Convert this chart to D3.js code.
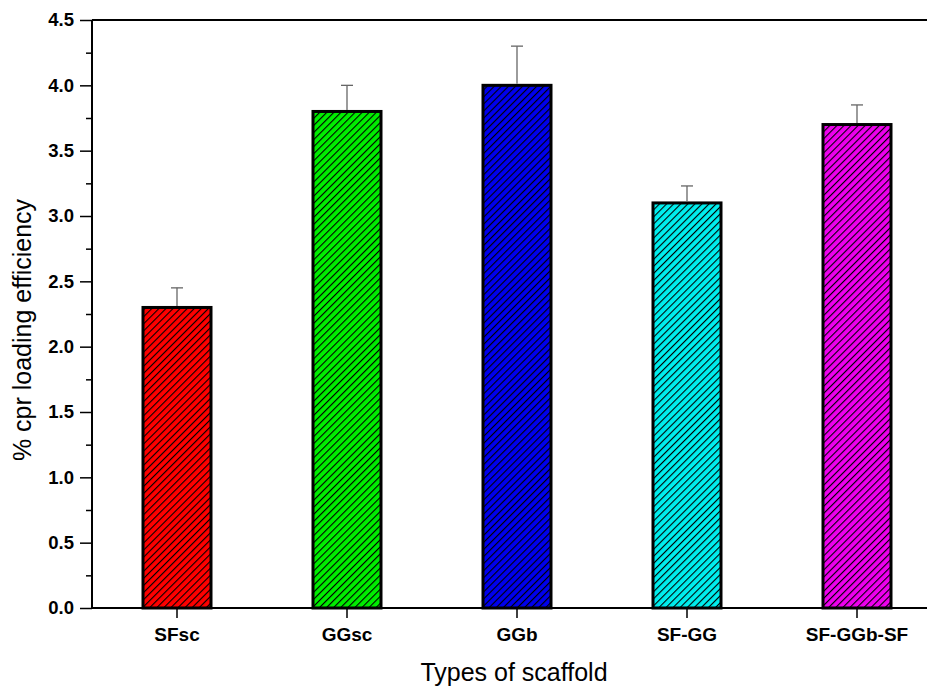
<!DOCTYPE html>
<html><head><meta charset="utf-8">
<script src="https://cdn.jsdelivr.net/npm/d3@7"></script>
<style>body{margin:0;background:#fff}svg{display:block}</style>
</head><body>
<script>
const categories = ["SFsc", "GGsc", "GGb", "SF-GG", "SF-GGb-SF"];
const values = [2.3, 3.8, 4.0, 3.1, 3.7];
const errors = [0.15, 0.2, 0.3, 0.13, 0.15];
const colors = ["#ff0000", "#00ee00", "#0000ee", "#00eeee", "#ee00ee"];
const yTicks = [0.0, 0.5, 1.0, 1.5, 2.0, 2.5, 3.0, 3.5, 4.0, 4.5];

const W = 927, H = 687;
const m = {left: 92, right: 0, top: 20, bottom: 79};
const FONT = "Liberation Sans, Arial, sans-serif";
const svg = d3.select("body").append("svg").attr("width", W).attr("height", H);
const defs = svg.append("defs");
colors.forEach((c, i) => {
  const p = defs.append("pattern").attr("id", "h" + i).attr("patternUnits", "userSpaceOnUse")
    .attr("width", 5).attr("height", 5).attr("patternTransform", "rotate(45)");
  p.append("rect").attr("width", 5).attr("height", 5).attr("fill", c);
  p.append("line").attr("x1", 0).attr("y1", 0).attr("x2", 0).attr("y2", 5)
    .attr("stroke", "#000").attr("stroke-width", 2.2);
});

const x = d3.scaleBand().domain(categories).range([m.left, m.left + 850]).paddingInner(0.6).paddingOuter(0.3);
const y = d3.scaleLinear().domain([0, 4.5]).range([H - m.bottom, m.top]);

svg.append("line").attr("x1", m.left).attr("x2", W).attr("y1", y(4.5)).attr("y2", y(4.5))
  .attr("stroke", "#000").attr("stroke-width", 2);

const g = svg.append("g");
categories.forEach((c, i) => {
  g.append("rect").attr("x", x(c)).attr("y", y(values[i])).attr("width", x.bandwidth())
    .attr("height", y(0) - y(values[i])).attr("fill", "url(#h" + i + ")")
    .attr("stroke", "#000").attr("stroke-width", 3);
  const cx = x(c) + x.bandwidth() / 2;
  g.append("line").attr("x1", cx).attr("x2", cx).attr("y1", y(values[i]) - 1.5).attr("y2", y(values[i] + errors[i]))
    .attr("stroke", "#666").attr("stroke-width", 1.3);
  g.append("line").attr("x1", cx - 6).attr("x2", cx + 6).attr("y1", y(values[i] + errors[i])).attr("y2", y(values[i] + errors[i]))
    .attr("stroke", "#666").attr("stroke-width", 1.3);
});

const ya = svg.append("g").attr("transform", `translate(${m.left},0)`)
  .call(d3.axisLeft(y).tickValues(yTicks).tickFormat(d3.format(".1f")).tickSize(12).tickPadding(6));
const yMinor = svg.append("g").attr("transform", `translate(${m.left},0)`)
  .call(d3.axisLeft(y).tickValues(d3.range(0.25, 4.5, 0.5)).tickFormat("").tickSize(6));
yMinor.select(".domain").remove();
[ya, yMinor].forEach(a => a.selectAll("line").attr("stroke", "#000").attr("stroke-width", 1.5));
ya.select(".domain").attr("stroke", "#000").attr("stroke-width", 2).attr("d", `M0,${y(0)}V${y(4.5)}`);
ya.selectAll("text").attr("font-family", FONT).attr("font-weight", "bold")
  .attr("font-size", 18.5).attr("fill", "#000");

const xa = svg.append("g").attr("transform", `translate(0,${y(0)})`)
  .call(d3.axisBottom(x).tickSize(10).tickPadding(10));
xa.select(".domain").attr("stroke", "#000").attr("stroke-width", 2).attr("d", `M${m.left},0H${W}`);
xa.selectAll("line").attr("stroke", "#000").attr("stroke-width", 1.5);
xa.selectAll("text").attr("font-family", FONT).attr("font-weight", "bold")
  .attr("font-size", 19).attr("fill", "#000");

svg.append("text").attr("x", 514).attr("y", 681).attr("text-anchor", "middle")
  .attr("font-family", FONT).attr("font-size", 25).text("Types of scaffold");
svg.append("text").attr("transform", `translate(31,330) rotate(-90)`).attr("text-anchor", "middle")
  .attr("font-family", FONT).attr("font-size", 25).text("% cpr loading efficiency");
</script>
</body></html>
